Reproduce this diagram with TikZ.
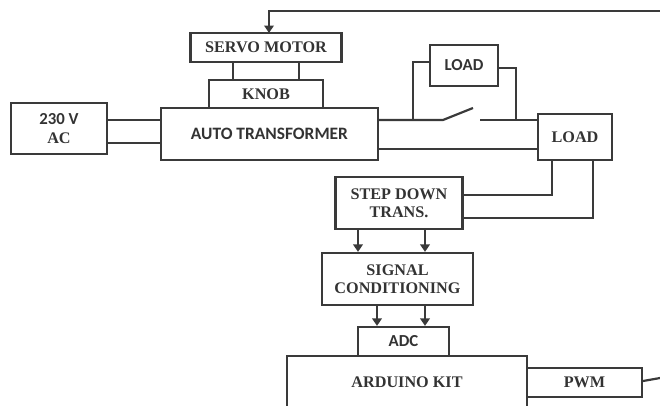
\documentclass[tikz,border=0pt]{standalone}
\usepackage{fontspec}
\setmainfont{Liberation Serif}
\newfontfamily\carl{Carlito}
\usetikzlibrary{arrows.meta}
\definecolor{ink}{HTML}{3A3A3A}
\definecolor{txt}{HTML}{333333}
\tikzset{
  blk/.style={draw=ink,line width=2.2pt,inner sep=0pt,align=center,text=txt,font=\bfseries\fontsize{16.2}{18}\selectfont},
  sansblk/.style={blk,font=\carl\bfseries\fontsize{16.8}{19}\selectfont},
  wire/.style={draw=ink,line width=2.2pt,line join=miter},
  flow/.style={wire,-{Triangle[length=7.5pt,width=9.5pt]}}
}
\begin{document}
\begin{tikzpicture}[x=1pt,y=-1pt]
\useasboundingbox (0,0) rectangle (660,405);
\clip (0,0) rectangle (660,405);
\node[sansblk,minimum width=96pt,minimum height=51pt] (ac) at (59,128.5) {230 V\\{\rmfamily\fontsize{16.2}{18}\selectfont AC}};
\node[sansblk,font=\carl\bfseries\fontsize{17.4}{19}\selectfont,minimum width=217pt,minimum height=52pt] (auto) at (269.5,134) {AUTO TRANSFORMER};
\node[blk,minimum width=114pt,minimum height=28pt] (knob) at (266,94) {KNOB};
\node[blk,minimum width=151pt,minimum height=29pt] (servo) at (266,47.5) {\raisebox{-1.5pt}{SERVO MOTOR}};
\node[sansblk,minimum width=68pt,minimum height=41pt] (ltop) at (464,65.5) {LOAD};
\node[blk,minimum width=74pt,minimum height=46pt] (lright) at (575,137) {LOAD};
\node[blk,minimum width=127pt,minimum height=52pt] (step) at (399,203) {STEP DOWN\\TRANS.};
\node[blk,minimum width=151pt,minimum height=52pt] (sig) at (397.5,279) {SIGNAL\\CONDITIONING};
\node[sansblk,minimum width=91pt,minimum height=29pt] (adc) at (403.5,341.5) {ADC};
\node[blk,minimum width=240pt,minimum height=52pt] (ard) at (407,382) {ARDUINO KIT};
\node[blk,minimum width=115pt,minimum height=29pt] (pwm) at (584.5,382.5) {PWM};
\coordinate (fbin) at (660,11);
\coordinate (fbout) at (660,378);
\coordinate (swa) at (443,120);
\coordinate (swb) at (473,108);
\coordinate (swc) at (480,120);
% supply
\path[wire] (ac.east |- 0,120) -- (auto.west |- 0,120);
\path[wire] (ac.east |- 0,143) -- (auto.west |- 0,143);
% servo to knob
\path[wire] (servo.south -| 233,0) -- (knob.north -| 233,0);
\path[wire] (servo.south -| 299,0) -- (knob.north -| 299,0);
% feedback
\path[flow] (fbin) -- (269,11) -- (269,33);
\path[wire] (pwm.east |- 0,381) -- (fbout);
% switch line
\path[wire] (auto.east |- swa) -- (swa) -- (swb);
\path[wire] (swc) -- (lright.west |- swc);
\path[wire] (auto.east |- 0,149) -- (lright.west |- 0,149);
% parallel load
\path[wire] (413,120) -- (413,62) -- (ltop.west |- 0,62);
\path[wire] (ltop.east |- 0,68) -- (516,68) -- (516,120);
% load to step down
\path[wire] (lright.south -| 552,0) -- (552,195) -- (step.east |- 0,195);
\path[wire] (lright.south -| 593,0) -- (593,218) -- (step.east |- 0,218);
% arrows
\path[flow] (step.south -| 358,0) -- (sig.north -| 358,0);
\path[flow] (step.south -| 425,0) -- (sig.north -| 425,0);
\path[flow] (sig.south -| 377,0) -- (adc.north -| 377,0);
\path[flow] (sig.south -| 425,0) -- (adc.north -| 425,0);
\end{tikzpicture}
\end{document}
